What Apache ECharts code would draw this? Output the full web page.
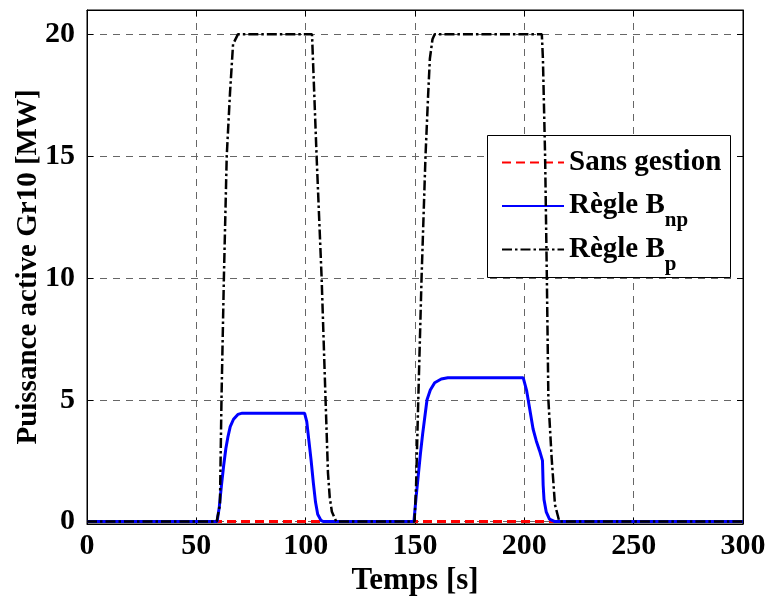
<!DOCTYPE html>
<html>
<head>
<meta charset="utf-8">
<script src="https://cdn.jsdelivr.net/npm/echarts@6/dist/echarts.min.js"></script>
<style>html,body{margin:0;padding:0;background:#fff;}#c{width:769px;height:597px;}</style>
</head>
<body>
<div id="c"></div>
<script>
// ---- data ----
var seriesNames = ['Sans gestion', 'Règle B_np', 'Règle B_p'];
var xTicks = [0, 50, 100, 150, 200, 250, 300];
var yTicks = [0, 5, 10, 15, 20];

var sansGestion = [[0, 0], [300, 0]];

var regleBnp = [
  [0, 0], [59.5, 0], [60.5, 0.6], [61.5, 1.5], [62.5, 2.3], [63.5, 3.0], [64.5, 3.5], [65.5, 3.9],
  [67, 4.2], [69, 4.4], [71, 4.45], [99.5, 4.45], [100.5, 4.1], [101.5, 3.3], [102.5, 2.5],
  [103.5, 1.6], [104.5, 0.8], [105.5, 0.3], [107, 0.05], [108, 0],
  [149.5, 0], [150.5, 1.0], [151.5, 1.9], [152.5, 2.8], [153.5, 3.6], [154.5, 4.3], [155.5, 5.0],
  [157, 5.4], [159, 5.7], [162, 5.85], [165, 5.9], [199.5, 5.9], [201, 5.4], [202.5, 4.6],
  [204, 3.8], [205.5, 3.3], [207, 2.9], [208.3, 2.5], [208.6, 1.5], [209, 0.9], [210, 0.4],
  [211.5, 0.1], [214, 0], [300, 0]
];

var regleBp = [
  [0, 0], [59.3, 0], [60.8, 0.7], [61.5, 5], [62.6, 10], [63.9, 15], [65.4, 17.6], [66.8, 19.6],
  [69, 20], [102.9, 20], [105, 15], [107.3, 10], [109.1, 5], [110.2, 2], [111, 1], [112, 0.4],
  [114, 0],
  [149.8, 0], [150.5, 1.5], [151.5, 5], [153, 10], [154.8, 15], [156, 17.5], [156.8, 19],
  [158, 19.8], [159, 20], [208, 20], [208.5, 19], [209.5, 15], [210.3, 10], [211, 5],
  [212.5, 2.6], [214, 0.7], [216, 0], [300, 0]
];

// ---- chart ----
var FONT = '"Liberation Serif", "Times New Roman", serif';
var chart = echarts.init(document.getElementById('c'), null, {renderer: 'canvas'});

function legendFmt(name) {
  var parts = name.split('_');
  if (parts.length > 1) return '{b|' + parts[0] + '}{s|' + parts[1] + '}';
  return '{b|' + name + '}{s|}';
}

var gridLine = {color: '#666', type: [7, 6], width: 1};

var option = {
  animation: false,
  backgroundColor: '#fff',
  grid: {left: 87, right: 26, top: 10, bottom: 73, show: true, borderColor: '#000', borderWidth: 1,
         containLabel: false, outerBoundsMode: 'none'},
  xAxis: [{
    type: 'value', min: 0, max: 300, interval: 50, position: 'bottom',
    name: 'Temps [s]', nameLocation: 'middle', nameGap: 34,
    nameTextStyle: {fontFamily: FONT, fontWeight: 'bold', fontSize: 31, color: '#000'},
    axisLine: {show: true, onZero: false, lineStyle: {color: '#000', width: 1}},
    axisTick: {show: true, inside: true, length: 6, lineStyle: {color: '#000'}},
    axisLabel: {fontFamily: FONT, fontWeight: 'bold', fontSize: 30, color: '#000', margin: 7},
    splitLine: {show: true, lineStyle: gridLine}
  }, {
    type: 'value', min: 0, max: 300, interval: 50, position: 'top',
    axisLine: {show: true, onZero: false, lineStyle: {color: '#000'}},
    axisTick: {show: true, inside: true, length: 6, lineStyle: {color: '#000'}},
    axisLabel: {show: false}, splitLine: {show: false}
  }],
  yAxis: [{
    type: 'value', min: -0.1, max: 21, position: 'left',
    name: 'Puissance active Gr10 [MW]', nameLocation: 'middle', nameGap: 44, nameMoveOverlap: false,
    nameTextStyle: {fontFamily: FONT, fontWeight: 'bold', fontSize: 29, color: '#000'},
    axisLine: {show: true, onZero: false, lineStyle: {color: '#000'}},
    axisTick: {show: true, inside: true, length: 6, customValues: yTicks, lineStyle: {color: '#000'}},
    axisLabel: {fontFamily: FONT, fontWeight: 'bold', fontSize: 30, color: '#000', margin: 12, customValues: yTicks},
    splitLine: {show: true, customValues: yTicks, lineStyle: gridLine}
  }, {
    type: 'value', min: -0.1, max: 21, position: 'right',
    axisLine: {show: true, onZero: false, lineStyle: {color: '#000'}},
    axisTick: {show: true, inside: true, length: 6, customValues: yTicks, lineStyle: {color: '#000'}},
    axisLabel: {show: false}, splitLine: {show: false}
  }],
  legend: {
    show: true, orient: 'vertical', left: 496, top: 143,
    itemWidth: 62, itemHeight: 14, itemGap: 3.5,
    backgroundColor: 'transparent',
    itemStyle: {opacity: 0},
    formatter: legendFmt,
    textStyle: {
      color: '#000',
      rich: {
        b: {fontFamily: FONT, fontWeight: 'bold', fontSize: 29, color: '#000'},
        s: {fontFamily: FONT, fontWeight: 'bold', fontSize: 21, color: '#000', padding: [30, 0, 0, 0]}
      }
    }
  },
  graphic: [{
    type: 'rect', left: 487, top: 135, z: 3,
    shape: {width: 243, height: 142},
    style: {fill: '#fff', stroke: '#000', lineWidth: 1}
  }],
  series: [{
    name: seriesNames[0], type: 'line', data: sansGestion, symbol: 'none', z: 2,
    lineStyle: {color: '#ff0000', width: 3, type: [9, 5]}, itemStyle: {color: '#ff0000'}
  }, {
    name: seriesNames[1], type: 'line', data: regleBnp, symbol: 'none', z: 3,
    lineStyle: {color: '#0000ff', width: 3, type: 'solid'}, itemStyle: {color: '#0000ff'}
  }, {
    name: seriesNames[2], type: 'line', data: regleBp, symbol: 'none', z: 4,
    lineStyle: {color: '#000', width: 2.5, type: [10, 3, 2.5, 3]}, itemStyle: {color: '#000'}
  }]
};
option.legend.data = [seriesNames[0], seriesNames[1], seriesNames[2]];
chart.setOption(option);
</script>
</body>
</html>
